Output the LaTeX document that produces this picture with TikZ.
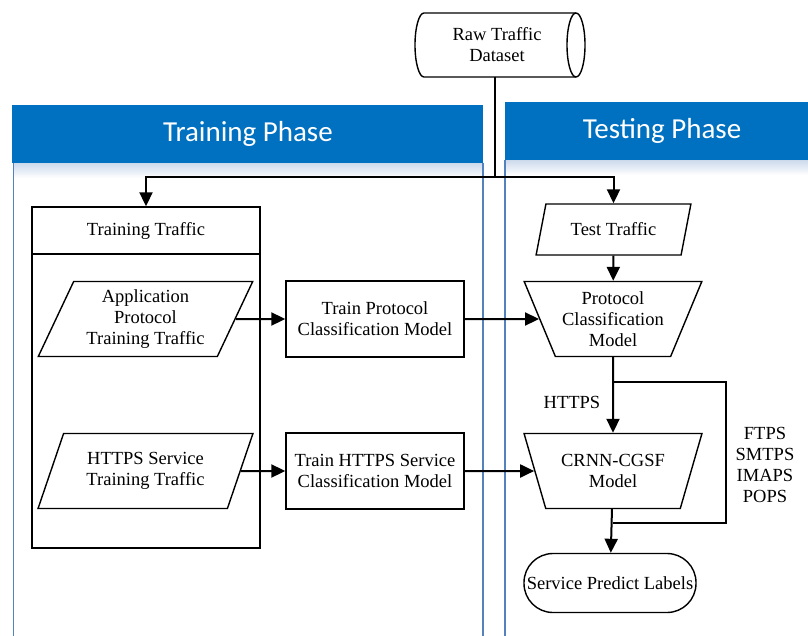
\documentclass[tikz,border=0pt]{standalone}
\usepackage{fontspec}
\setmainfont{Liberation Serif}
\newfontfamily\hdfont{Carlito}
\usetikzlibrary{shapes.geometric,arrows.meta}
\definecolor{hdblue}{RGB}{0,112,192}
\definecolor{pnlline}{RGB}{84,130,190}
\begin{document}
\begin{tikzpicture}[x=1pt,y=-1pt,
  every node/.style={font=\fontsize{18.5}{21}\selectfont, align=center, inner sep=0pt},
  shp/.style={draw, line width=1.4pt, fill=white},
  rbox/.style={shp, rectangle, minimum width=178pt, minimum height=76pt},
  para/.style={shp, trapezium, trapezium stretches=true, trapezium left angle=63.7, trapezium right angle=116.3, minimum width=215pt, minimum height=75pt},
  trap/.style={shp, trapezium, trapezium stretches=true, trapezium left angle=63.4, trapezium right angle=63.4, shape border rotate=180, minimum width=178pt, minimum height=75pt},
  line/.style={line width=2pt},
  arr/.style={line width=2pt, -{Triangle[length=14pt,width=13pt]}},
  hdtitle/.style={font=\hdfont\fontsize{29}{31}\selectfont, text=white},
  lbl/.style={font=\fontsize{18.5}{21}\selectfont}
]
\useasboundingbox (0,0) rectangle (808,635);
\begin{scope}
\clip (0,0) rectangle (808,635);
% panels
\shade[top color=pnlline!30, bottom color=white] (13,163) rectangle (483,178);
\fill[hdblue] (12,105) rectangle (483,163);
\draw[pnlline, line width=1pt] (13,163) -- (13,640);
\draw[pnlline, line width=1.2pt] (483,163) -- (483,640);
\shade[top color=pnlline!30, bottom color=white] (505,160) rectangle (820,175);
\fill[hdblue] (505,102) rectangle (820,160);
\draw[pnlline, line width=1.2pt] (505,160) -- (505,640);
\end{scope}
\node[hdtitle] (trh) at (248,134) {Training Phase};
\node[hdtitle] (teh) at (662,131) {Testing Phase};

% raw dataset cylinder (horizontal)
\draw[line width=1.4pt, fill=white] (424,13) -- (576,13)
  arc[start angle=270, end angle=450, x radius=9, y radius=32] -- (424,77)
  arc[start angle=90, end angle=270, x radius=9, y radius=32] -- cycle;
\draw[line width=1.4pt] (576,13) arc[start angle=270, end angle=90, x radius=9, y radius=32];
\node[minimum width=170pt, minimum height=64pt] (raw) at (497,45) {Raw Traffic\\Dataset};

% nodes
\node[shp, rectangle, minimum width=228pt, minimum height=341pt, fill=none] (ttbox) at (146,377.5) {};
\node (tthead) at (146,231) {Training Traffic};
\draw[line width=1.4pt] (ttbox.west |- 0,254) -- (ttbox.east |- 0,254);
\node[para] (apt) at (145.5,319) {Application\\Protocol\\Training Traffic};
\node[rbox] (tpc) at (375,319) {Train Protocol\\Classification Model};
\node[para] (hst) at (145.5,471) {HTTPS Service\\Training Traffic};
\node[rbox] (ths) at (375,471) {Train HTTPS Service\\Classification Model};
\node[para, trapezium left angle=64.8, trapezium right angle=115.2, minimum width=155pt, minimum height=51pt] (tt) at (613.5,229.5) {Test Traffic};
\node[trap] (pcm) at (613,319) {Protocol\\Classification\\Model};
\node[trap] (crnn) at (613,471) {CRNN-CGSF\\Model};
\node[shp, rectangle, rounded corners=29pt, minimum width=172pt, minimum height=59pt] (spl) at (610,583) {Service Predict Labels};

% connectors
\coordinate (rj) at (495,177);
\draw[line] (rj |- raw.south) -- (rj);
\draw[arr] (rj) -| (ttbox);
\draw[arr] (rj) -| (tt);
\draw[arr] (tt) -- (pcm);
\draw[arr] (apt) -- (tpc);
\draw[arr] (tpc) -- (pcm);
\draw[arr] (hst) -- (ths);
\draw[arr] (ths) -- (crnn);
\coordinate (br) at (726,382);
\coordinate (be) at (726,523);
\coordinate (jn) at (613,523);
\draw[line] (pcm) |- (br) -- (be) -- (jn);
\draw[arr] (pcm) -- (crnn);
\draw[arr] (crnn) -- (spl);
\node[lbl] (https) at (572,402) {HTTPS};
\node[lbl] (others) at (765,465) {FTPS\\SMTPS\\IMAPS\\POPS};
\end{tikzpicture}
\end{document}
